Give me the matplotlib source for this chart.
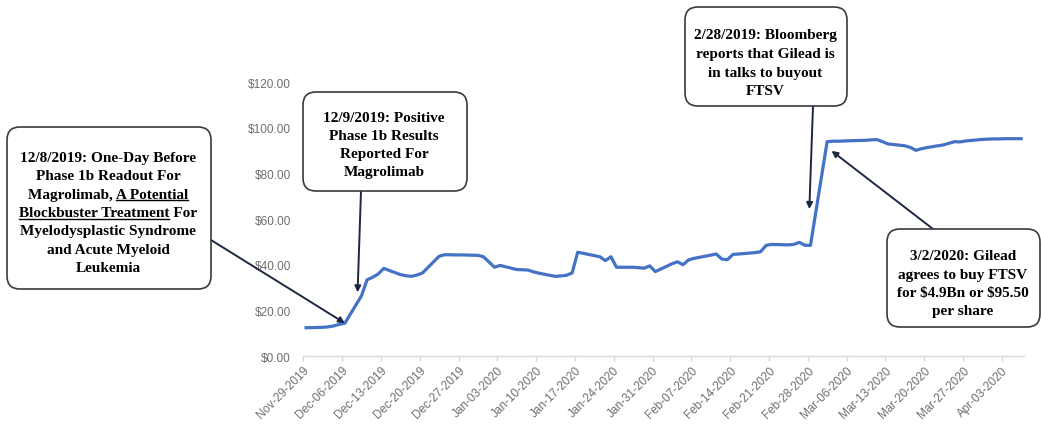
import numpy as np
import pandas as pd
import matplotlib
matplotlib.use("Agg")
import matplotlib.pyplot as plt
import matplotlib.dates as mdates
import matplotlib.ticker as mticker
from matplotlib.patches import FancyBboxPatch
from matplotlib.transforms import Affine2D

# FTSV daily close
trade_dates = [
    "2019-11-29",
    "2019-12-02", "2019-12-03", "2019-12-04", "2019-12-05", "2019-12-06",
    "2019-12-09", "2019-12-10", "2019-12-11", "2019-12-12", "2019-12-13",
    "2019-12-16", "2019-12-17", "2019-12-18", "2019-12-19", "2019-12-20",
    "2019-12-23", "2019-12-24", "2019-12-26", "2019-12-27",
    "2019-12-30", "2019-12-31", "2020-01-02", "2020-01-03",
    "2020-01-06", "2020-01-07", "2020-01-08", "2020-01-09", "2020-01-10",
    "2020-01-13", "2020-01-14", "2020-01-15", "2020-01-16", "2020-01-17",
    "2020-01-21", "2020-01-22", "2020-01-23", "2020-01-24",
    "2020-01-27", "2020-01-28", "2020-01-29", "2020-01-30", "2020-01-31",
    "2020-02-03", "2020-02-04", "2020-02-05", "2020-02-06", "2020-02-07",
    "2020-02-10", "2020-02-11", "2020-02-12", "2020-02-13", "2020-02-14",
    "2020-02-18", "2020-02-19", "2020-02-20", "2020-02-21",
    "2020-02-24", "2020-02-25", "2020-02-26", "2020-02-27", "2020-02-28",
    "2020-03-02", "2020-03-03", "2020-03-04", "2020-03-05", "2020-03-06",
    "2020-03-09", "2020-03-10", "2020-03-11", "2020-03-12", "2020-03-13",
    "2020-03-16", "2020-03-17", "2020-03-18", "2020-03-19", "2020-03-20",
    "2020-03-23", "2020-03-24", "2020-03-25", "2020-03-26", "2020-03-27",
    "2020-03-30", "2020-03-31", "2020-04-01", "2020-04-02", "2020-04-03",
    "2020-04-06",
]
prices = [
    12.5,
    12.7, 12.9, 13.3, 14.0, 14.5,
    26.5, 33.5, 34.6, 36.0, 38.5,
    35.8, 35.3, 35.0, 35.6, 36.5,
    43.8, 44.5, 44.4, 44.4,
    44.2, 43.6, 39.0, 39.8,
    38.0, 37.9, 37.8, 37.0, 36.4,
    35.0, 35.2, 35.5, 36.5, 45.6,
    43.6, 41.9, 43.6, 39.0,
    39.0, 38.8, 38.6, 39.6, 37.1,
    40.5, 41.4, 40.1, 42.2, 42.9,
    44.3, 44.8, 42.6, 42.3, 44.6,
    45.4, 45.8, 48.6, 49.0,
    48.8, 49.0, 49.9, 48.6, 48.6,
    94.0, 94.2, 94.2, 94.3, 94.4,
    94.6, 94.8, 94.9, 94.0, 93.0,
    92.2, 91.5, 90.2, 90.9, 91.4,
    92.6, 93.3, 94.0, 93.9, 94.3,
    95.0, 95.1, 95.2, 95.2, 95.3,
    95.3,
]
tick_dates = pd.date_range("2019-11-29", "2020-04-03", freq="7D")
y_ticks = [0, 20, 40, 60, 80, 100, 120]

box_texts = {
    "dec8": ["12/8/2019: One-Day Before", "Phase 1b Readout For",
             "Magrolimab, A Potential", "Blockbuster Treatment For",
             "Myelodysplastic Syndrome", "and Acute Myeloid", "Leukemia"],
    "dec9": ["12/9/2019: Positive", "Phase 1b Results",
             "Reported For", "Magrolimab"],
    "feb28": ["2/28/2019: Bloomberg", "reports that Gilead is",
              "in talks to buyout", "FTSV"],
    "mar2": ["3/2/2020: Gilead", "agrees to buy FTSV",
             "for $4.9Bn or $95.50", "per share"],
}

W, H = 1041, 431
fig = plt.figure(figsize=(W / 100, H / 100), dpi=100)
ax = fig.add_axes([303.3 / W, 1 - 357.3 / H, 720.6 / W, 274 / H])

# excel date axis puts each point in the middle of its day slot
x = pd.to_datetime(trade_dates) + pd.Timedelta(hours=12)
ax.plot(x, prices, color="#4472C4", lw=2.3, solid_joinstyle="round")

ax.set_xlim(pd.Timestamp("2019-11-29"), pd.Timestamp("2020-04-07"))
ax.set_ylim(0, 120)
ax.set_yticks(y_ticks)
ax.yaxis.set_major_formatter(mticker.StrMethodFormatter("${x:,.2f}"))
ax.set_xticks(tick_dates)
ax.xaxis.set_major_formatter(mdates.DateFormatter("%b-%d-%Y"))

for s in ["top", "right", "left"]:
    ax.spines[s].set_visible(False)
ax.spines["bottom"].set_color("#d9d9d9")
ax.spines["bottom"].set_linewidth(1)
ax.tick_params(axis="y", length=0, pad=9, labelsize=8.5, labelcolor="#6e6e6e")
ax.tick_params(axis="x", length=3.5, width=1, color="#d9d9d9", pad=2,
               labelsize=8.5, labelcolor="#6e6e6e")
for lab in ax.get_xticklabels():
    lab.set_rotation(45)
    lab.set_ha("right")
    lab.set_va("top")
    lab.set_rotation_mode("anchor")
for lab in ax.get_xticklabels() + ax.get_yticklabels():
    lab.set_family("Liberation Sans")

# pixel coords measured from the top-left of the picture
px = Affine2D().scale(1 / 100, -1 / 100).translate(0, H / 100) + fig.dpi_scale_trans

font = dict(family="Liberation Serif", weight="bold", size=11, color="black",
            parse_math=False)

def callout(key, x0, y0, x1, y1, cx, cy, step):
    box = FancyBboxPatch((x0, y0), x1 - x0, y1 - y0,
                         boxstyle="round,pad=0,rounding_size=13",
                         transform=px, facecolor="white", edgecolor="#3a3a3a",
                         lw=1.2, zorder=5)
    fig.add_artist(box)
    for i, line in enumerate(box_texts[key]):
        fig.text(cx, cy + i * step + 5.5, line, transform=px,
                 ha="center", va="baseline", zorder=6, **font)

callout("dec8", 7, 128, 211, 290, 108, 156.7, 18.3)
callout("dec9", 303, 93, 467, 192, 384, 116.7, 17.8)
callout("feb28", 685, 8, 847, 107, 765, 34, 18.6)
callout("mar2", 887, 230, 1040, 328, 963, 255, 18.3)

# underline "A Potential Blockbuster Treatment"
fig.canvas.draw()
rend = fig.canvas.get_renderer()

def text_w(s):
    t = fig.text(0, 0, s, **font)
    w = t.get_window_extent(rend).width
    t.remove()
    return w

for idx, part, side in [(2, "A Potential", "end"), (3, "Blockbuster Treatment", "start")]:
    full = box_texts["dec8"][idx]
    fw, uw = text_w(full), text_w(part)
    cx = 108
    yb = 156.7 + idx * 18.3 + 5.5 + 2.5
    if side == "end":
        xa, xb = cx + fw / 2 - uw, cx + fw / 2
    else:
        xa, xb = cx - fw / 2, cx - fw / 2 + uw
    fig.add_artist(plt.Line2D([xa, xb], [yb, yb], transform=px, color="black",
                              lw=1.0, zorder=6))

arrow_kw = dict(arrowstyle="-|>", color="#1c2840", lw=1.4, mutation_scale=9,
                shrinkA=0, shrinkB=0)
ax.annotate("", xy=(x[5], prices[5]), xytext=(211, 241), textcoords=px,
            arrowprops=arrow_kw, annotation_clip=False, zorder=4)
ax.annotate("", xy=(pd.Timestamp("2019-12-08 19:00"), 28), xytext=(361, 192),
            textcoords=px, arrowprops=arrow_kw, annotation_clip=False, zorder=4)
ax.annotate("", xy=(pd.Timestamp("2020-02-28 07:00"), 64.5), xytext=(813, 107),
            textcoords=px, arrowprops=arrow_kw, annotation_clip=False, zorder=4)
ax.annotate("", xy=(pd.Timestamp("2020-03-03 07:00"), 90), xytext=(933, 230),
            textcoords=px, arrowprops=arrow_kw, annotation_clip=False, zorder=4)

fig.savefig("out.png", dpi=100)
